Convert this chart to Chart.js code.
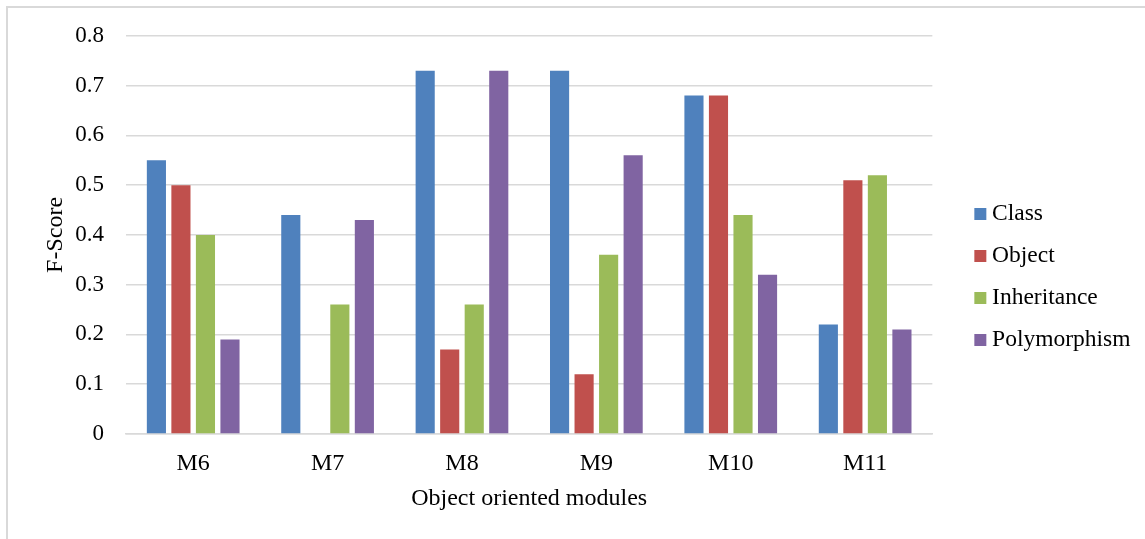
<!DOCTYPE html>
<html>
<head>
<meta charset="utf-8">
<script src="https://cdn.jsdelivr.net/npm/chart.js@4.4.0/dist/chart.umd.min.js"></script>
<style>
html,body{margin:0;padding:0;background:#fff;overflow:hidden;}
#wrap{position:relative;width:1145px;height:539px;}
#frame{position:absolute;left:6px;top:6px;width:1200px;height:600px;border-left:2px solid #d9d9d9;border-top:2px solid #d9d9d9;pointer-events:none;}
canvas{position:absolute;left:0;top:0;}
</style>
</head>
<body>
<div id="wrap">
<canvas id="c" width="1145" height="539"></canvas>
<div id="frame"></div>
</div>
<script>
const categories = ["M6", "M7", "M8", "M9", "M10", "M11"];
const classValues = [0.55, 0.44, 0.73, 0.73, 0.68, 0.22];
const objectValues = [0.50, 0, 0.17, 0.12, 0.68, 0.51];
const inheritanceValues = [0.40, 0.26, 0.26, 0.36, 0.44, 0.52];
const polymorphismValues = [0.19, 0.43, 0.73, 0.56, 0.32, 0.21];
const seriesNames = ["Class", "Object", "Inheritance", "Polymorphism"];
const seriesColors = ["#4F81BD", "#C0504D", "#9BBB59", "#8064A2"];
const yTicks = [0, 0.1, 0.2, 0.3, 0.4, 0.5, 0.6, 0.7, 0.8];

const FONT = "'Liberation Serif', 'Times New Roman', serif";
const allValues = [classValues, objectValues, inheritanceValues, polymorphismValues];

const legendShift = {
  id: 'legendShift',
  afterLayout(chart) {
    const lg = chart.legend;
    if (!lg) return;
    lg.left += 29.5; lg.right += 29.5;
    lg.top += 7; lg.bottom += 7;
  }
};

new Chart(document.getElementById('c'), {
  type: 'bar',
  data: {
    labels: categories,
    datasets: allValues.map((v, i) => ({
      label: seriesNames[i],
      data: v,
      backgroundColor: seriesColors[i],
      borderWidth: 0,
      barPercentage: 0.78,
      categoryPercentage: 0.73,
      pointStyle: 'rect'
    }))
  },
  plugins: [legendShift],
  options: {
    responsive: false,
    animation: false,
    devicePixelRatio: 1,
    layout: { padding: { left: 40, top: 27, right: 34, bottom: 26 } },
    plugins: {
      tooltip: { enabled: false },
      legend: {
        position: 'right',
        align: 'center',
        labels: {
          font: { family: FONT, size: 23.5 },
          color: '#000',
          usePointStyle: true,
          pointStyle: 'rect',
          boxWidth: 0.01,
          boxHeight: 12,
          padding: 18.5
        }
      }
    },
    scales: {
      x: {
        afterFit: (axis) => { axis.height = 79; },
        grid: { display: false, drawTicks: false },
        border: { display: true, color: '#d9d9d9', width: 1.5 },
        ticks: { font: { family: FONT, size: 24 }, color: '#000', padding: 15 },
        title: { display: true, text: 'Object oriented modules', font: { family: FONT, size: 24 }, color: '#000', padding: { top: 0, bottom: 0 } }
      },
      y: {
        min: 0,
        max: 0.8,
        afterFit: (axis) => { axis.width = 86; },
        afterBuildTicks: (axis) => { axis.ticks = yTicks.map(v => ({ value: v })); },
        grid: { color: '#d9d9d9', lineWidth: 1.5, drawTicks: false },
        border: { display: false },
        ticks: {
          font: { family: FONT, size: 23 },
          color: '#000',
          padding: 22,
          callback: (v) => (v === 0 ? '0' : Number(v).toFixed(1))
        },
        title: { display: true, text: 'F-Score', font: { family: FONT, size: 24 }, color: '#000', padding: { top: 1, bottom: 0 } }
      }
    }
  }
});
</script>
</body>
</html>
